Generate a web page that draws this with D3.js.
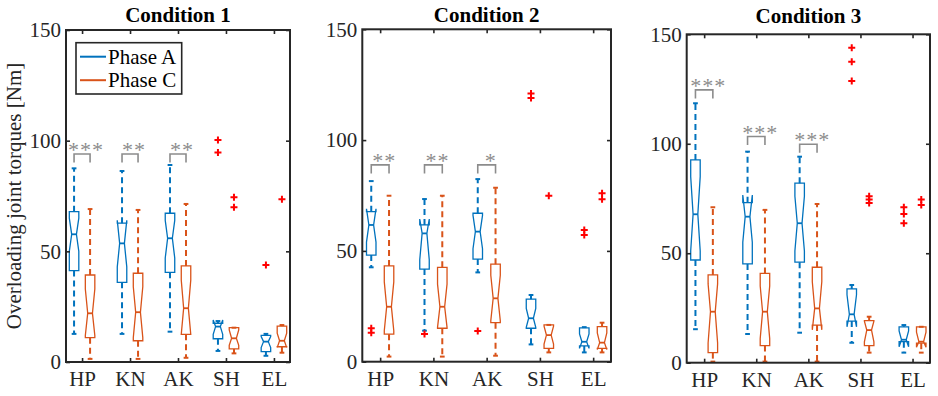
<!DOCTYPE html>
<html><head><meta charset="utf-8">
<script src="https://cdn.jsdelivr.net/npm/d3@7"></script>
<style>
html,body{margin:0;padding:0;background:#fff;}
text{font-family:"Liberation Serif","Times New Roman",serif;}
</style></head>
<body><svg id="chart" width="938" height="396"></svg>
<script>
// ---------- DATA ----------
const conditions = ["Condition 1", "Condition 2", "Condition 3"];
const categories = ["HP", "KN", "AK", "SH", "EL"];
const phases = ["Phase A", "Phase C"];
const yTicks = [0, 50, 100, 150];

// Phase A statistics [condition][category]
const A_whiskerHi = [[87.5, 86.3, 89.0, 18.5, 12.7], [81.5, 73.4, 82.4, 30.1, 15.6], [118.5, 96.4, 94.1, 35.5, 17.2]];
const A_q3        = [[67.9, 62.7, 67.2, 17.5, 12.0], [67.7, 61.7, 67.0, 28.2, 15.3], [92.6, 73.1, 82.0, 33.7, 16.4]];
const A_notchHi   = [[65.0, 64.0, 64.0, 19.0, 11.5], [69.0, 64.4, 66.0, 24.0, 12.5], [85.0, 76.6, 76.0, 31.0, 14.5]];
const A_median    = [[57.7, 53.6, 55.9, 16.0, 9.2], [61.7, 57.9, 58.7, 19.6, 9.0], [67.8, 66.7, 63.7, 22.1, 10.5]];
const A_notchLo   = [[50.0, 43.0, 47.0, 12.5, 6.5], [54.0, 46.0, 51.0, 15.5, 6.0], [51.0, 55.0, 51.0, 16.4, 7.3]];
const A_q1        = [[41.3, 36.0, 40.5, 10.5, 4.7], [48.1, 41.8, 46.3, 15.1, 7.1], [46.9, 45.1, 45.9, 19.0, 9.6]];
const A_whiskerLo = [[12.7, 12.7, 13.7, 5.0, 2.8], [42.6, 14.0, 40.3, 7.8, 4.2], [15.3, 13.1, 13.7, 9.1, 4.6]];
const A_outliers  = [
  [[], [], [], [100.3, 94.6], [43.8]],
  [[15.1, 13.1], [12.5], [13.9], [121, 119], [59.4, 57.2]],
  [[], [], [], [143.9, 137.5, 128.7], [71, 67.9, 63.7]]
];

// Phase C statistics [condition][category]
const C_whiskerHi = [[69.1, 68.7, 71.4, 15.5, 16.7], [74.9, 74.9, 78.5, 16.6, 17.6], [71.0, 69.8, 72.5, 21.0, 16.4]];
const C_q3        = [[39.3, 40.1, 43.4, 15.5, 16.2], [43.2, 42.6, 44.0, 16.6, 15.8], [40.1, 40.8, 43.6, 19.2, 16.4]];
const C_notchHi   = [[33.0, 34.0, 37.0, 14.5, 13.0], [36.0, 35.0, 39.0, 16.0, 13.0], [36.0, 35.0, 37.0, 19.0, 14.0]];
const C_median    = [[22.0, 22.5, 24.3, 10.7, 9.6], [24.8, 24.8, 28.6, 12.0, 8.6], [23.3, 23.3, 24.8, 14.9, 9.6]];
const C_notchLo   = [[12.0, 11.0, 12.5, 7.5, 6.5], [14.0, 15.5, 18.5, 8.0, 5.5], [9.0, 11.0, 15.0, 9.5, 7.0]];
const C_q1        = [[11.0, 9.6, 12.5, 5.9, 6.9], [12.4, 15.1, 17.6, 6.0, 6.0], [4.6, 7.8, 17.2, 7.8, 8.9]];
const C_whiskerLo = [[1.4, 1.4, 1.9, 3.9, 4.2], [2.3, 2.3, 2.7, 4.2, 4.2], [0.5, 0.5, 0.5, 4.6, 4.6]];
const C_outliers  = [
  [[], [], [], [74.4, 69.9], [73.5]],
  [[], [], [], [74.9], [76, 73.3]],
  [[], [], [], [76, 74.5, 73], [74.6, 72]]
];

// Significance annotations (first three categories)
const sigStars = [["***", "**", "**"], ["**", "**", "*"], ["***", "***", "***"]];
const sigLevel = [[94, 94, 94], [88.8, 88.8, 88.8], [124.6, 103.3, 99.8]];

// ---------- LAYOUT ----------
const panels = [
  {left: 66, right: 290, top: 30, bottom: 362},
  {left: 362.3, right: 611, top: 29.3, bottom: 361.7},
  {left: 686.7, right: 930, top: 34.3, bottom: 362.7}
];
const colors = ["#0072BD", "#D95319"];
const boxW = 9.5;
const svg = d3.select("#chart");

const stats = [
  {hi: A_whiskerHi, q3: A_q3, nhi: A_notchHi, med: A_median, nlo: A_notchLo, q1: A_q1, lo: A_whiskerLo, out: A_outliers},
  {hi: C_whiskerHi, q3: C_q3, nhi: C_notchHi, med: C_median, nlo: C_notchLo, q1: C_q1, lo: C_whiskerLo, out: C_outliers}
];

conditions.forEach((cond, ci) => {
  const p = panels[ci];
  const x = d3.scalePoint().domain(categories).range([p.left, p.right]).padding(0.335);
  const y = d3.scaleLinear().domain([0, 150]).range([p.bottom, p.top]);
  const step = x.step();
  const g = svg.append("g");

  // title
  g.append("text").attr("x", (p.left + p.right) / 2).attr("y", 21.5 + (ci === 2 ? 1 : 0))
    .attr("text-anchor", "middle").attr("font-weight", "bold").attr("font-size", 21)
    .attr("fill", "#000").text(cond);

  // boxes
  stats.forEach((s, pi) => {
    const off = (pi === 0 ? -1 : 1) * 0.167 * step;
    categories.forEach((cat, k) => {
      const cx = x(cat) + off;
      const hw = boxW / 2, nw = hw / 2;
      const col = colors[pi];
      const bg = g.append("g");
      // whiskers
      [[s.q3[ci][k], s.hi[ci][k]], [s.q1[ci][k], s.lo[ci][k]]].forEach(([a, b]) => {
        if (Math.abs(a - b) > 0.01) {
          bg.append("line").attr("x1", cx).attr("x2", cx).attr("y1", y(a)).attr("y2", y(b))
            .attr("stroke", col).attr("stroke-width", 2).attr("stroke-dasharray", "6,4");
        }
        bg.append("line").attr("x1", cx - hw / 2).attr("x2", cx + hw / 2).attr("y1", y(b)).attr("y2", y(b))
          .attr("stroke", col).attr("stroke-width", 2);
      });
      // notched box
      const q1 = y(s.q1[ci][k]), q3 = y(s.q3[ci][k]), md = y(s.med[ci][k]);
      const nl = y(s.nlo[ci][k]), nh = y(s.nhi[ci][k]);
      const path = d3.path();
      path.moveTo(cx - hw, q1); path.lineTo(cx - hw, nl); path.lineTo(cx - nw, md);
      path.lineTo(cx - hw, nh); path.lineTo(cx - hw, q3); path.lineTo(cx + hw, q3);
      path.lineTo(cx + hw, nh); path.lineTo(cx + nw, md); path.lineTo(cx + hw, nl);
      path.lineTo(cx + hw, q1); path.closePath();
      bg.append("path").attr("d", path.toString()).attr("fill", "none")
        .attr("stroke", col).attr("stroke-width", 1.3).attr("stroke-linejoin", "miter");
      bg.append("line").attr("x1", cx - nw).attr("x2", cx + nw).attr("y1", md).attr("y2", md)
        .attr("stroke", col).attr("stroke-width", 1.8);
      // outliers
      s.out[ci][k].forEach(v => {
        bg.append("path").attr("transform", `translate(${cx},${y(v)})`)
          .attr("d", "M-3.5,0H3.5M0,-3.5V3.5").attr("stroke", "#FF0000").attr("stroke-width", 2);
      });
    });
  });

  // significance brackets
  sigStars[ci].forEach((st, k) => {
    const cat = categories[k];
    const xa = x(cat) - 0.167 * step, xc = x(cat) + 0.167 * step;
    const yt = y(sigLevel[ci][k]);
    g.append("path").attr("d", `M${xa},${yt + 8.5}V${yt}H${xc}V${yt + 8.5}`)
      .attr("fill", "none").attr("stroke", "#8c8c8c").attr("stroke-width", 1.6);
    g.append("text").attr("x", (xa + xc) / 2 + 3).attr("y", yt + 3)
      .attr("text-anchor", "middle").attr("font-size", 22).attr("font-style", "italic")
      .attr("fill", "#8c8c8c").attr("letter-spacing", 1).text(st);
  });

  // axes
  const axB = d3.axisBottom(x).tickSizeInner(-4).tickSizeOuter(0).tickPadding(10);
  const gb = g.append("g").attr("transform", `translate(0,${p.bottom})`).call(axB);
  const axT = d3.axisTop(x).tickSizeInner(-4).tickSizeOuter(0).tickFormat("");
  g.append("g").attr("transform", `translate(0,${p.top})`).call(axT);
  const axL = d3.axisLeft(y).tickValues(yTicks).tickSizeInner(-4).tickSizeOuter(0).tickPadding(10);
  const gl = g.append("g").attr("transform", `translate(${p.left},0)`).call(axL);
  const axR = d3.axisRight(y).tickValues(yTicks).tickSizeInner(-4).tickSizeOuter(0).tickFormat("");
  g.append("g").attr("transform", `translate(${p.right},0)`).call(axR);
  g.selectAll(".domain").remove();
  g.selectAll(".tick line").attr("stroke", "#262626").attr("stroke-width", 1.6);
  g.selectAll(".tick text").attr("font-family", "'Liberation Serif','Times New Roman',serif")
    .attr("font-size", 21).attr("fill", "#262626");
  gb.selectAll(".tick text").attr("dy", "0.71em").attr("y", 9);
  gl.selectAll(".tick text").attr("x", -5);
  g.append("rect").attr("x", p.left).attr("y", p.top).attr("width", p.right - p.left).attr("height", p.bottom - p.top)
    .attr("fill", "none").attr("stroke", "#262626").attr("stroke-width", 2);

  // legend in first panel
  if (ci === 0) {
    const lg = g.append("g");
    lg.append("rect").attr("x", 76).attr("y", 42.7).attr("width", 105.7).attr("height", 51.3)
      .attr("fill", "#fff").attr("stroke", "#262626").attr("stroke-width", 1.6);
    phases.forEach((ph, i) => {
      const ly = 56.7 + i * 23.5;
      lg.append("line").attr("x1", 80).attr("x2", 106).attr("y1", ly).attr("y2", ly)
        .attr("stroke", colors[i]).attr("stroke-width", 2);
      lg.append("text").attr("x", 108).attr("y", ly + 7).attr("font-size", 21).attr("fill", "#000").text(ph);
    });
  }
});

// y-axis label
svg.append("text").attr("transform", "translate(21,196) rotate(-90)").attr("text-anchor", "middle")
  .attr("font-size", 21).attr("fill", "#262626").text("Overloading joint torques [Nm]");
</script></body></html>
